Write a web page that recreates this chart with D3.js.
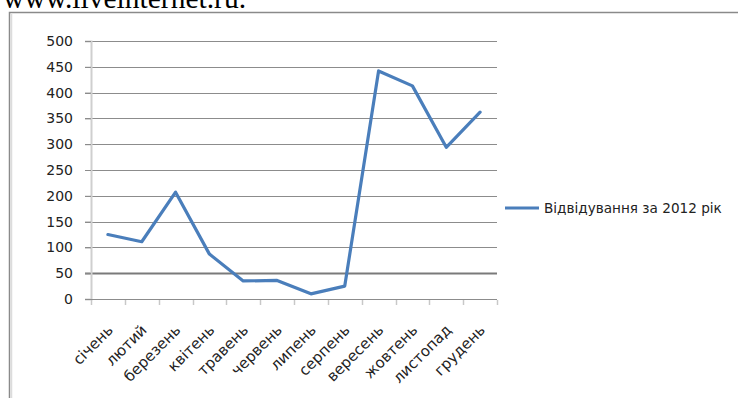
<!DOCTYPE html>
<html><head><meta charset="utf-8">
<script src="https://cdn.jsdelivr.net/npm/d3@7"></script>
<style>
html,body{margin:0;padding:0;background:#fff;}
svg{display:block;}
</style></head>
<body>
<svg id="chart" width="738" height="398"></svg>
<script>
const months = ["січень","лютий","березень","квітень","травень","червень","липень","серпень","вересень","жовтень","листопад","грудень"];
const visits = [125,111,207,87,35,36,10,25,442,413,294,362];
const yTicks = [0,50,100,150,200,250,300,350,400,450,500];
const seriesName = "Відвідування за 2012 рік";
const headerText = "www.liveinternet.ru.";

const svg = d3.select("#chart");
const margin = {left:91, right:497, top:41, bottom:299};

// page header text (cut off at top, as in the reference)
svg.append("text").attr("x",3).attr("y",7.5)
  .attr("font-family","Liberation Serif, Times New Roman, serif")
  .attr("font-size",29.5).attr("fill","#000").text(headerText);

// chart frame
svg.append("rect").attr("x",9.5).attr("y",12.5).attr("width",760).attr("height",420)
  .attr("fill","none").attr("stroke","#8a8a8a").attr("stroke-width",1.5);
svg.append("line").attr("x1",11.5).attr("x2",11.5).attr("y1",14).attr("y2",398)
  .attr("stroke","#dcdcdc").attr("stroke-width",1.5);

const x = d3.scaleBand().domain(months).range([margin.left, margin.right]).paddingInner(0).paddingOuter(0);
const y = d3.scaleLinear().domain([0,500]).range([margin.bottom, margin.top]);

// gridlines
const grid = svg.append("g");
grid.selectAll("line").data(yTicks.filter(d=>d>0)).join("line")
  .attr("x1",85).attr("x2",margin.right)
  .attr("y1",d=>Math.round(y(d))+0.5).attr("y2",d=>Math.round(y(d))+0.5)
  .attr("stroke",d=>d===50?"#7a7a7a":"#8c8c8c")
  .attr("stroke-width",d=>d===50?2:1);

// y axis
const yAxis = svg.append("g").attr("transform",`translate(${margin.left},0)`)
  .call(d3.axisLeft(y).tickValues(yTicks).tickSize(6).tickPadding(12).tickFormat(d3.format("d")));
yAxis.select(".domain").attr("stroke","#cfcfcf").attr("stroke-width",2);
yAxis.selectAll(".tick line").attr("stroke","#8c8c8c");
yAxis.selectAll(".tick text").attr("font-family","DejaVu Sans, sans-serif").attr("font-size",14).attr("fill","#222");

// x axis
const xAxisG = svg.append("g").attr("transform",`translate(0,${margin.bottom})`);
xAxisG.append("line").attr("x1",85).attr("x2",margin.right).attr("y1",0.5).attr("y2",0.5)
  .attr("stroke","#8c8c8c");
const bounds = months.map(m=>x(m)).concat([margin.right]);
xAxisG.selectAll("line.tk").data(bounds).join("line").attr("class","tk")
  .attr("x1",d=>Math.round(d)+0.5).attr("x2",d=>Math.round(d)+0.5).attr("y1",1).attr("y2",6)
  .attr("stroke","#c8c8c8").attr("stroke-width",1.5);
xAxisG.selectAll("text").data(months).join("text")
  .attr("transform",d=>`translate(${x(d)+x.bandwidth()/2+6},${32}) rotate(-45)`)
  .attr("text-anchor","end")
  .attr("font-family","DejaVu Sans, sans-serif").attr("font-size",15).attr("fill","#222")
  .text(d=>d);

// line
const line = d3.line().x((d,i)=>x(months[i])+x.bandwidth()/2).y(d=>y(d));
svg.append("path").datum(visits).attr("d",line)
  .attr("fill","none").attr("stroke","#4a7ebb").attr("stroke-width",3.2)
  .attr("stroke-linejoin","round").attr("stroke-linecap","round");

// legend
const lg = svg.append("g").attr("transform","translate(505,208)");
lg.append("line").attr("x1",0).attr("x2",34).attr("y1",0).attr("y2",0)
  .attr("stroke","#4a7ebb").attr("stroke-width",3.2);
lg.append("text").attr("x",39).attr("y",5).attr("font-family","DejaVu Sans, sans-serif")
  .attr("font-size",13.6).attr("fill","#222").text(seriesName);
</script>
</body></html>
